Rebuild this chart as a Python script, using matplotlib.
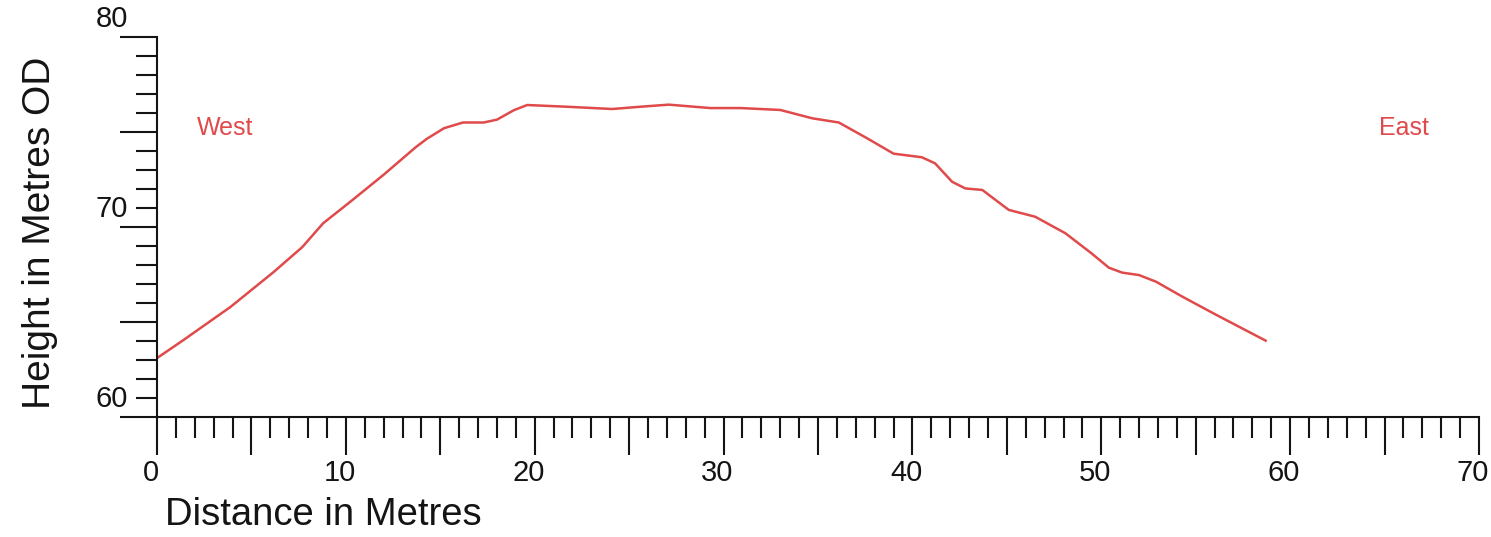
import matplotlib
matplotlib.use("Agg")
import matplotlib.pyplot as plt
from matplotlib.ticker import MultipleLocator
from matplotlib.transforms import offset_copy

plt.rcParams['font.family'] = ['Liberation Sans', 'DejaVu Sans']

# profile: distance (m) and height (m OD)
distance = [0.0, 1.4, 3.9, 6.2, 7.7, 8.8, 10.2, 12.0, 13.7, 14.3, 15.2, 16.2,
            17.3, 18.0, 18.9, 19.6, 21.7, 24.1, 25.6, 27.1, 29.3, 30.9, 33.0,
            34.7, 36.1, 37.6, 39.0, 40.5, 41.2, 42.1, 42.8, 43.7, 45.1, 46.5,
            48.1, 49.5, 50.4, 51.1, 52.0, 52.9, 54.3, 56.1, 58.7]
height = [63.1, 64.05, 65.8, 67.65, 68.95, 70.2, 71.3, 72.75, 74.2, 74.65,
          75.2, 75.5, 75.5, 75.65, 76.15, 76.42, 76.33, 76.21, 76.33, 76.44,
          76.26, 76.26, 76.16, 75.72, 75.5, 74.67, 73.86, 73.67, 73.35, 72.38,
          72.03, 71.95, 70.9, 70.54, 69.67, 68.6, 67.86, 67.6, 67.47, 67.12,
          66.33, 65.37, 64.02]

x_labels = [0, 10, 20, 30, 40, 50, 60, 70]
y_labels = [60, 70, 80]

red = '#e04a4a'
ink = '#141414'

fig = plt.figure(figsize=(14.91, 5.37), dpi=100)
ax = fig.add_axes([157 / 1491, 120 / 537, 1322 / 1491, 380 / 537])

ax.plot(distance, height, color=red, lw=1.8, solid_joinstyle='round')

ax.set_xlim(0, 70)
ax.set_ylim(60, 80)
for side in ('top', 'right'):
    ax.spines[side].set_visible(False)
for side in ('left', 'bottom'):
    ax.spines[side].set_linewidth(1.5)
    ax.spines[side].set_color(ink)

ax.xaxis.set_major_locator(MultipleLocator(5))
ax.xaxis.set_minor_locator(MultipleLocator(1))
ax.yaxis.set_major_locator(MultipleLocator(5))
ax.yaxis.set_minor_locator(MultipleLocator(1))
ax.tick_params(which='major', direction='out', length=27, width=1.5, color=ink)
ax.tick_params(which='minor', direction='out', length=15, width=1.5, color=ink)
ax.tick_params(labelbottom=False, labelleft=False)

# tick labels sit just above the y ticks and slightly left of the x ticks
ylab_tr = offset_copy(ax.get_yaxis_transform(), fig=fig, x=-21, y=3, units='points')
for v in y_labels:
    ax.text(0, v, str(v), transform=ylab_tr, ha='right', va='bottom',
            fontsize=21, color=ink)
xlab_tr = offset_copy(ax.get_xaxis_transform(), fig=fig, x=-4.5, y=-40, units='points')
for v in x_labels:
    ax.text(v, 0, str(v), transform=xlab_tr, ha='center', va='center',
            fontsize=21, color=ink)

ax.text(2.1, 75.2, 'West', color=red, fontsize=18, ha='left', va='center')
ax.text(64.7, 75.2, 'East', color=red, fontsize=18, ha='left', va='center')

fig.text(165 / 1491, 1 - 525 / 537, 'Distance in Metres', fontsize=27.5,
         ha='left', va='baseline', color=ink)
fig.text(40 / 1491, 1 - 233 / 537, 'Height in Metres OD', fontsize=28,
         rotation=90, ha='center', va='center', color=ink)

fig.savefig('out.png', dpi=100)
